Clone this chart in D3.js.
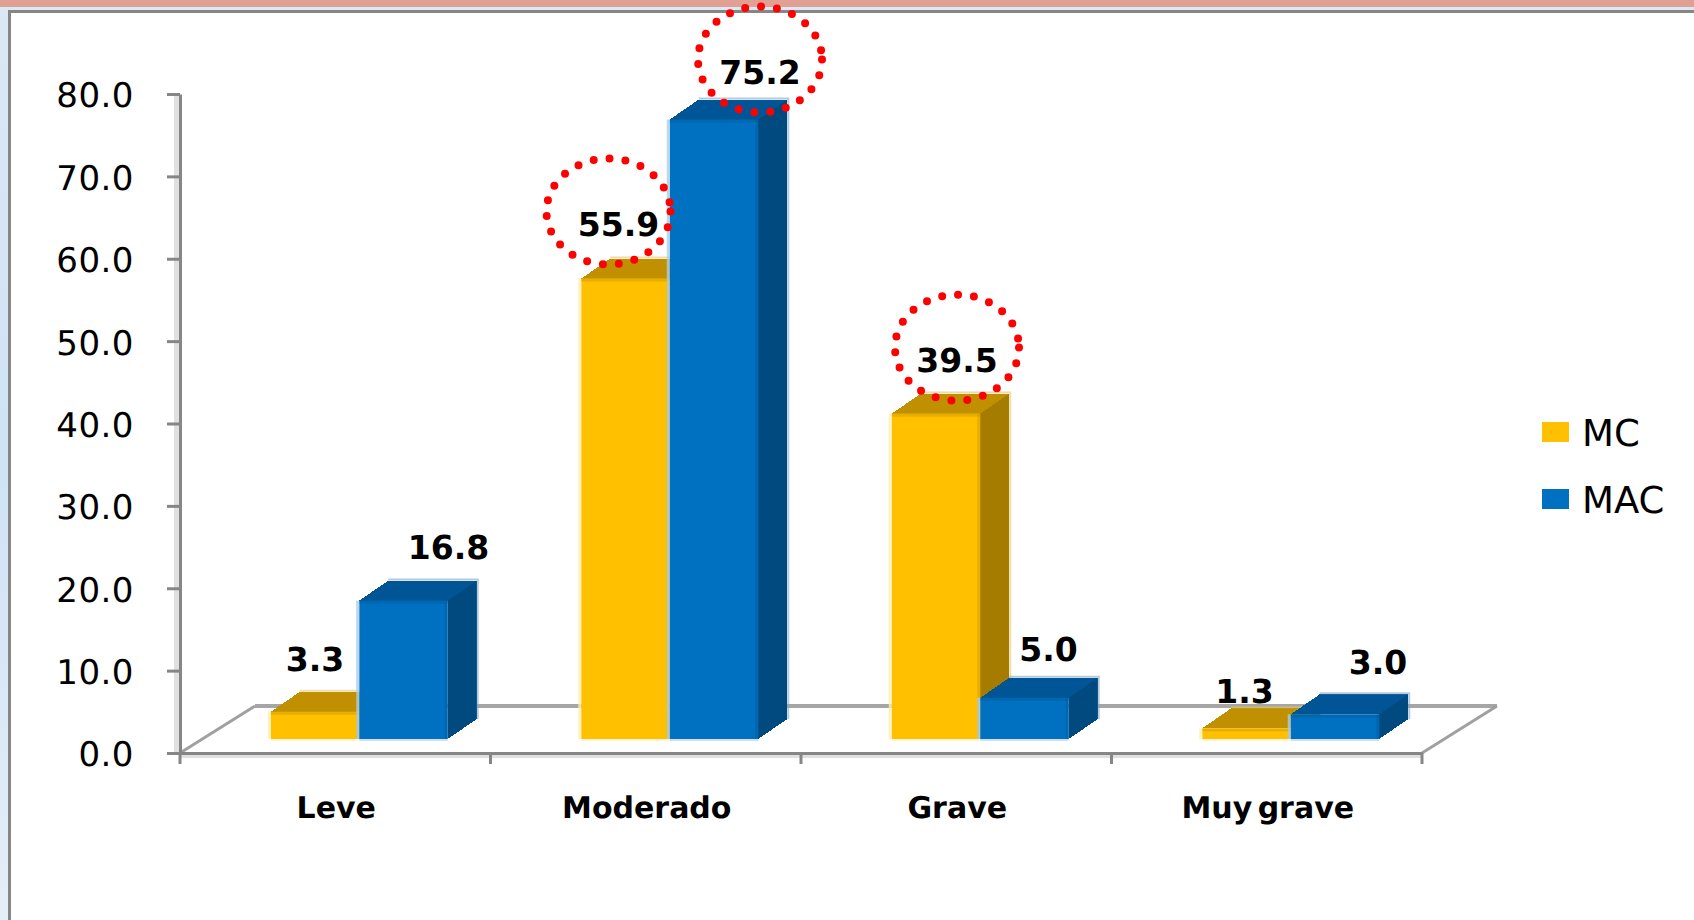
<!DOCTYPE html>
<html lang="en">
<head>
<meta charset="UTF-8">
<title>MC / MAC</title>
<script src="https://d3js.org/d3.v7.min.js"></script>
<style>
    html, body { margin: 0; padding: 0; background: #fff; }
    svg { display: block; }
    text { font-family: "DejaVu Sans", sans-serif; fill: #000; text-rendering: geometricPrecision; }
</style>
</head>
<body>
<svg id="chart" width="1694" height="920"></svg>
<script>
const categories = ["Leve", "Moderado", "Grave", "Muy grave"];
const seriesNames = ["MC", "MAC"];
const mcValues = [3.3, 55.9, 39.5, 1.3];
const macValues = [16.8, 75.2, 5.0, 3.0];
const yTicks = [0, 10, 20, 30, 40, 50, 60, 70, 80];
// which bars have a dotted ring: [category, series]
const ringed = [["Moderado", "MC"], ["Moderado", "MAC"], ["Grave", "MC"]];

const svg = d3.select("#chart");
const defs = svg.append("defs");

// page background behind the white panel
const bg = defs.append("linearGradient").attr("id", "bg-left").attr("x1", 0).attr("y1", 0).attr("x2", 0).attr("y2", 1);
bg.selectAll("stop").data([["0%", "#dbe8f5"], ["50%", "#cfe2f6"], ["100%", "#e4eef8"]])
    .enter().append("stop").attr("offset", d => d[0]).attr("stop-color", d => d[1]);
svg.append("rect").attr("width", 1694).attr("height", 920).attr("fill", "url(#bg-left)");
svg.append("rect").attr("width", 1694).attr("height", 7).attr("fill", "#e0a093");
svg.append("rect").attr("x", 10).attr("y", 12).attr("width", 1684).attr("height", 908).attr("fill", "#fff");
svg.append("path").attr("d", "M9.5,920V11.5H1694").attr("fill", "none").attr("stroke", "#868686").attr("stroke-width", 3);

// scales
const x = d3.scaleBand().domain(categories).range([180, 1422]);
const y = d3.scaleLinear().domain([0, 80]).range([753, 94]);

// 3d box settings
const barW = 88.5, depthX = 29, depthY = 20, floorDX = 75, floorDY = 47, baseLift = 14;
const barX = (c, s) => x(c) + x.bandwidth() / 2 + 24 + (s === 0 ? -barW : 0);
const barTop = v => y(v) - baseLift;
const barBase = y(0) - baseLift;

const palette = [
    {front: "#ffc000", top: "#c09000", side: "#a67c00", edge: "#ffeeb0", rim: "#e0c670"},
    {front: "#0070c0", top: "#005596", side: "#004a80", edge: "#a9cdea", rim: "#7fa8c8"}
];

// floor
const floor = svg.append("g").attr("fill", "none").attr("stroke", "#a6a6a6");
floor.append("path")
    .attr("d", `M${x.range()[0] + floorDX},${y(0) - floorDY}H${x.range()[1] + floorDX}`)
    .attr("stroke-width", 4);
floor.append("path")
    .attr("d", `M${x.range()[0]},${y(0)}l${floorDX},${-floorDY}M${x.range()[1]},${y(0)}l${floorDX},${-floorDY}`)
    .attr("stroke-width", 3).attr("stroke", "#a0a0a0");

// shadow next to the axis lines
svg.append("rect").attr("x", x.range()[0] - 6).attr("y", y(80)).attr("width", 5).attr("height", y(0) - y(80)).attr("fill", "#e0e0e0");
svg.append("rect").attr("x", x.range()[0]).attr("y", y(0) + 1).attr("width", x.range()[1] - x.range()[0]).attr("height", 4).attr("fill", "#e0e0e0");

// axes
const yAxis = d3.axisLeft(y).tickValues(yTicks).tickFormat(d3.format(".1f")).tickSize(13).tickSizeOuter(0).tickPadding(33);
const gy = svg.append("g").attr("transform", `translate(${x.range()[0]},0)`).call(yAxis);
gy.selectAll("text").attr("font-size", 34).attr("font-family", "DejaVu Sans").attr("dy", "0.38em")
    .attr("letter-spacing", 0.5);
gy.selectAll(".domain, .tick line").attr("stroke", "#868686").attr("stroke-width", 3);

const xAxis = d3.axisBottom(x).tickSize(0).tickPadding(44);
const gx = svg.append("g").attr("transform", `translate(0,${y(0)})`).call(xAxis);
gx.selectAll("text").attr("font-size", 30).attr("font-weight", "bold").attr("font-family", "DejaVu Sans")
    .attr("dx", 1).attr("word-spacing", -5);
gx.select(".domain").attr("stroke", "#868686").attr("stroke-width", 3);
gx.selectAll(".sep").data(d3.range(categories.length + 1)).enter().append("line").attr("class", "sep")
    .attr("x1", i => x.range()[0] + i * x.bandwidth()).attr("x2", i => x.range()[0] + i * x.bandwidth())
    .attr("y1", 0).attr("y2", 11).attr("stroke", "#868686").attr("stroke-width", 3);

// bars, MC first so MAC sits on top of it
const rows = [];
[mcValues, macValues].forEach((vals, s) => categories.forEach((c, i) => rows.push({c: c, s: s, v: vals[i]})));

const boxes = svg.selectAll(".box").data(rows).enter().append("g").attr("class", "box");
boxes.each(function (d) {
    const g = d3.select(this), p = palette[d.s];
    const x0 = barX(d.c, d.s), x1 = x0 + barW, t = barTop(d.v);
    g.append("path").attr("d", `M${x0},${t}l${depthX},${-depthY}H${x1 + depthX}L${x1},${t}Z`).attr("fill", p.top).attr("shape-rendering", "crispEdges");
    g.append("path").attr("d", `M${x1},${t}l${depthX},${-depthY}V${barBase - depthY}L${x1},${barBase}Z`).attr("fill", p.side).attr("shape-rendering", "crispEdges");
    g.append("rect").attr("x", x0).attr("y", t).attr("width", barW).attr("height", barBase - t).attr("fill", p.front);
    // thin light edges from the bevel
    g.append("rect").attr("x", x0 - 3).attr("y", t).attr("width", 3).attr("height", barBase - t).attr("fill", p.edge).attr("opacity", 0.8);
    g.append("rect").attr("x", x0).attr("y", barBase).attr("width", barW).attr("height", 2).attr("fill", p.edge).attr("opacity", 0.6);
    g.append("rect").attr("x", x0).attr("y", t).attr("width", barW).attr("height", 3).attr("fill", p.top).attr("opacity", 0.35);
    g.append("rect").attr("x", x1 - 3).attr("y", t).attr("width", 3).attr("height", barBase - t).attr("fill", p.top).attr("opacity", 0.35);
    g.append("path").attr("d", `M${x0 + depthX},${t - depthY - 1}H${x1 + depthX + 1}V${barBase - depthY}`)
        .attr("fill", "none").attr("stroke", p.rim).attr("stroke-width", 2).attr("opacity", 0.6);
});

// label offsets from the bar's back top edge, as placed in the picture
const labelNudge = {
    "Leve0": [0, -21], "Leve1": [45, -22],
    "Moderado0": [-7, -23], "Moderado1": [46, -16],
    "Grave0": [21, -22], "Grave1": [24, -17],
    "Muy grave0": [-2, -5], "Muy grave1": [43, -20]
};
const labelX = d => barX(d.c, d.s) + barW / 2 + labelNudge[d.c + d.s][0];
const labelY = d => barTop(d.v) - depthY + labelNudge[d.c + d.s][1];

svg.selectAll(".val").data(rows).enter().append("text").attr("class", "val")
    .attr("x", labelX).attr("y", labelY)
    .attr("text-anchor", "middle").attr("font-size", 33).attr("font-weight", "bold")
    .text(d => d.v.toFixed(1));

// dotted rings around the highlighted labels
const ringRows = rows.filter(d => ringed.some(r => r[0] === d.c && seriesNames[d.s] === r[1]));
svg.selectAll(".ring").data(ringRows).enter().append("ellipse").attr("class", "ring")
    .attr("cx", d => labelX(d) - (d.c === "Moderado" && d.s === 0 ? 10 : 0)).attr("cy", d => labelY(d) - 24)
    .attr("rx", 62).attr("ry", 53)
    .attr("fill", "none").attr("stroke", "#ff0000").attr("stroke-width", 8)
    .attr("stroke-linecap", "round").attr("stroke-dasharray", "0 16");

// legend
const legend = svg.selectAll(".leg").data(seriesNames).enter().append("g").attr("class", "leg")
    .attr("transform", (d, i) => `translate(1542,${422 + i * 67})`);
legend.append("rect").attr("width", 27).attr("height", 20).attr("fill", (d, i) => palette[i].front);
legend.append("text").attr("x", 40).attr("y", 24).attr("font-size", 37).text(d => d);
</script>
</body>
</html>
